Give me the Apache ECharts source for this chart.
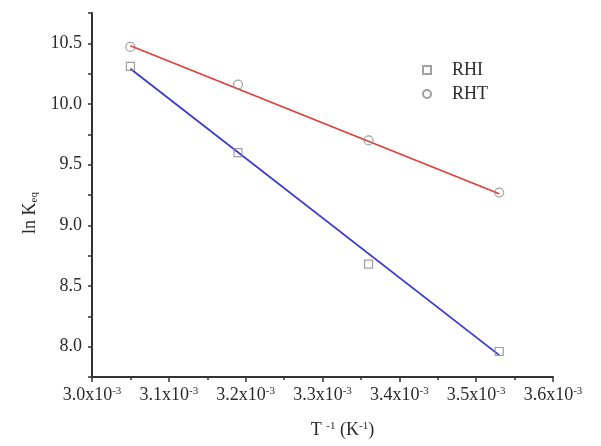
<!DOCTYPE html>
<html>
<head>
<meta charset="utf-8">
<script src="https://cdn.jsdelivr.net/npm/echarts@6/dist/echarts.min.js"></script>
<style>html,body{margin:0;padding:0;background:#fff}#c{width:601px;height:446px}</style>
</head>
<body>
<div id="c"></div>
<script>
// x values in units of 10^-3 K^-1
var xVals = [3.05, 3.19, 3.36, 3.53];
var rhiVals = [10.31, 9.60, 8.68, 7.96];
var rhtVals = [10.47, 10.16, 9.70, 9.27];
// fitted straight lines, read at the end points
var fitX = [3.05, 3.53];
var rhiFit = [10.29, 7.93];
var rhtFit = [10.48, 9.26];
var xTicks = ['3.0', '3.1', '3.2', '3.3', '3.4', '3.5', '3.6'];
var yTicks = ['8.0', '8.5', '9.0', '9.5', '10.0', '10.5'];

function pairs(xs, ys) { return xs.map(function (x, i) { return [x, ys[i]]; }); }

var FONT = 'Liberation Serif';
var TXT = '#2a2a2a';
var AX = '#333';

var chart = echarts.init(document.getElementById('c'), null, {renderer: 'canvas'});
chart.setOption({
  animation: false,
  backgroundColor: '#fff',
  grid: {left: 92, right: 48, top: 13, bottom: 69, containLabel: false},
  legend: {
    orient: 'vertical', left: 417, top: 56, itemGap: 6,
    itemWidth: 8, itemHeight: 8,
    textStyle: {fontFamily: FONT, fontSize: 18, color: TXT, padding: [0, 0, 0, 16]},
    data: [{name: 'RHI', icon: 'rect'}, {name: 'RHT', icon: 'circle'}]
  },
  xAxis: {
    type: 'value', min: 3.0, max: 3.6, interval: 0.1,
    name: '{a|T }{s|-1}{a| (K}{s|-1}{a|)}',
    nameLocation: 'middle', nameGap: 44,
    nameTextStyle: {padding: [0, 0, 0, 40], rich: {
      a: {fontFamily: FONT, fontSize: 18, color: TXT},
      s: {fontFamily: FONT, fontSize: 11, color: TXT, verticalAlign: 'top', padding: [0, 0, 8, 0]}
    }},
    axisLine: {show: true, onZero: false, lineStyle: {color: AX, width: 2}},
    axisTick: {show: true, inside: false, length: 5, lineStyle: {color: AX, width: 1.5}},
    minorTick: {show: true, splitNumber: 2, length: 3, lineStyle: {color: AX, width: 1.5}},
    splitLine: {show: false},
    axisLabel: {
      margin: 9,
      formatter: function (v) {
        var i = Math.round((v - 3.0) / 0.1);
        return '{a|' + xTicks[i] + 'x10}{s|-3}';
      },
      rich: {
        a: {fontFamily: FONT, fontSize: 18, color: TXT},
        s: {fontFamily: FONT, fontSize: 11, color: TXT, verticalAlign: 'top', padding: [0, 0, 8, 0]}
      }
    }
  },
  yAxis: {
    type: 'value', min: 7.75, max: 10.75, interval: 0.25,
    name: '{a|ln K}{s|eq}',
    nameLocation: 'middle', nameRotate: 90, nameGap: 52,
    nameTextStyle: {padding: [0, 36, 0, 0], rich: {
      a: {fontFamily: FONT, fontSize: 18, color: TXT},
      s: {fontFamily: FONT, fontSize: 11, color: TXT, verticalAlign: 'bottom', padding: [8, 0, 0, 0]}
    }},
    axisLine: {show: true, onZero: false, lineStyle: {color: AX, width: 2}},
    axisTick: {show: true, inside: false, length: 4, lineStyle: {color: AX, width: 1.5}},
    splitLine: {show: false},
    axisLabel: {
      margin: 10, fontFamily: FONT, fontSize: 18, color: TXT,
      formatter: function (v) {
        var k = Math.round((v - 8.0) / 0.5 * 2);
        if (k < 0 || k % 2 !== 0) return '';
        return yTicks[k / 2] || '';
      }
    }
  },
  series: [
    {name: 'RHI fit', type: 'line', data: pairs(fitX, rhiFit), showSymbol: false,
     lineStyle: {color: '#3a3acc', width: 1.8}, z: 2, silent: true},
    {name: 'RHT fit', type: 'line', data: pairs(fitX, rhtFit), showSymbol: false,
     lineStyle: {color: '#e0403c', width: 1.8}, z: 2, silent: true},
    {name: 'RHI', type: 'scatter', symbol: 'rect', symbolSize: 8, data: pairs(xVals, rhiVals),
     itemStyle: {color: 'rgba(255,255,255,0)', borderColor: '#888', borderWidth: 1.2}, z: 3},
    {name: 'RHT', type: 'scatter', symbol: 'circle', symbolSize: 9, data: pairs(xVals, rhtVals),
     itemStyle: {color: 'rgba(255,255,255,0)', borderColor: '#888', borderWidth: 1.2}, z: 3}
  ]
});
</script>
</body>
</html>
